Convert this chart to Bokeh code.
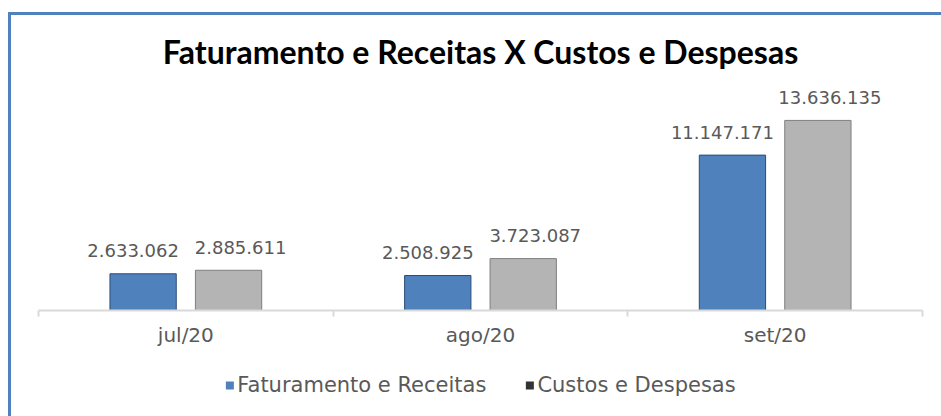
from bokeh.plotting import figure
from bokeh.layouts import column
from bokeh.models import (Range1d, LinearAxis, FixedTicker,
                          ColumnDataSource, Legend, LegendItem)
from bokeh.transform import dodge
from bokeh.embed import file_html
from bokeh.resources import INLINE
from bokeh.core.properties import value

# ---- data ----
months = ["jul/20", "ago/20", "set/20"]
faturamento = [2633062, 2508925, 11147171]
custos = [2885611, 3723087, 13636135]
series_names = ["Faturamento e Receitas", "Custos e Despesas"]
title_text = "Faturamento e Receitas X Custos e Despesas"


def fmt(v):
    return f"{v:,}".replace(",", ".")


idx = list(range(len(months)))
src = ColumnDataSource(dict(
    pos=idx, month=months, fat=faturamento, cus=custos,
    fat_lbl=[fmt(v) for v in faturamento],
    cus_lbl=[fmt(v) for v in custos],
))

BLUE = "#4F81BD"
BLUE_EDGE = "#2C4D75"
GRAY = "#B4B4B4"
GRAY_EDGE = "#7F7F7F"
TXT = "#595959"
OFF = 0.145
BW = 0.225

W = 930
H1 = 337
H2 = 64

p = figure(width=W, height=H1,
           x_range=Range1d(-0.5, len(months) - 0.5),
           y_range=Range1d(0, 16.5e6),
           output_backend="svg", toolbar_location=None,
           x_axis_location=None, y_axis_location=None,
           min_border_left=27, min_border_right=19,
           min_border_top=65, min_border_bottom=42)
p.grid.visible = False
p.outline_line_color = None

# title
p.title.text = title_text
p.title.align = "center"
p.title.text_font = "Lato"
p.title.text_font_style = "bold"
p.title.text_font_size = "32px"
p.title.text_color = "#000000"
p.title.standoff = 20

# category axis: labels at category centres, tick marks between categories
seps = [i - 0.5 for i in range(len(months) + 1)]
x_axis = LinearAxis(ticker=FixedTicker(ticks=idx, minor_ticks=seps),
                    major_label_overrides={i: m for i, m in zip(idx, months)},
                    axis_line_color="#D9D9D9", axis_line_width=2,
                    major_tick_line_color=None, major_tick_out=4,
                    minor_tick_line_color="#D9D9D9", minor_tick_line_width=2,
                    minor_tick_out=6, minor_tick_in=0,
                    major_label_text_font="DejaVu Sans",
                    major_label_text_font_size="20px",
                    major_label_text_color=TXT,
                    major_label_standoff=6)
p.add_layout(x_axis, "below")

p.vbar(x=dodge("pos", -OFF), top="fat", width=BW, source=src,
       fill_color=BLUE, line_color=BLUE_EDGE, line_width=1)
p.vbar(x=dodge("pos", OFF), top="cus", width=BW, source=src,
       fill_color=GRAY, line_color=GRAY_EDGE, line_width=1)

lbl_kw = dict(source=src, text_align="center", text_baseline="alphabetic", y_offset=-23,
              text_font=value("DejaVu Sans"), text_font_size="18px", text_color=TXT)
p.text(x=dodge("pos", -OFF), y="fat", text="fat_lbl", x_offset=-10, **lbl_kw)
p.text(x=dodge("pos", OFF), y="cus", text="cus_lbl", x_offset=12, **lbl_kw)

# ---- legend strip (legend-only renderers, kept outside the visible range) ----
q = figure(width=W, height=H2,
           x_range=p.x_range, y_range=Range1d(1e9, 2e9),
           output_backend="svg", toolbar_location=None,
           x_axis_location=None, y_axis_location=None,
           min_border_left=27, min_border_right=19,
           min_border_top=2, min_border_bottom=0)
q.grid.visible = False
q.outline_line_color = None
lf = q.vbar(x=dodge("pos", -OFF), top="fat", bottom="fat", width=BW, source=src,
            fill_color=BLUE, line_color=None)
lc = q.vbar(x=dodge("pos", OFF), top="cus", bottom="cus", width=BW, source=src,
            fill_color="#333333", line_color=None)
legend = Legend(items=[LegendItem(label=series_names[0], renderers=[lf]),
                       LegendItem(label=series_names[1], renderers=[lc])],
                orientation="horizontal", location="center",
                glyph_width=10, glyph_height=10, label_standoff=3, spacing=38,
                padding=0, margin=0, border_line_color=None, background_fill_alpha=0,
                label_text_font="DejaVu Sans", label_text_font_size="21px",
                label_text_color=TXT)
q.add_layout(legend, "center")

layout = column(p, q, spacing=0,
                styles={"border-top": "3px solid #4F81BD",
                        "border-left": "3px solid #4F81BD",
                        "margin-left": "8px", "margin-top": "12px"})

open("out.html", "w").write(file_html(layout, INLINE))
